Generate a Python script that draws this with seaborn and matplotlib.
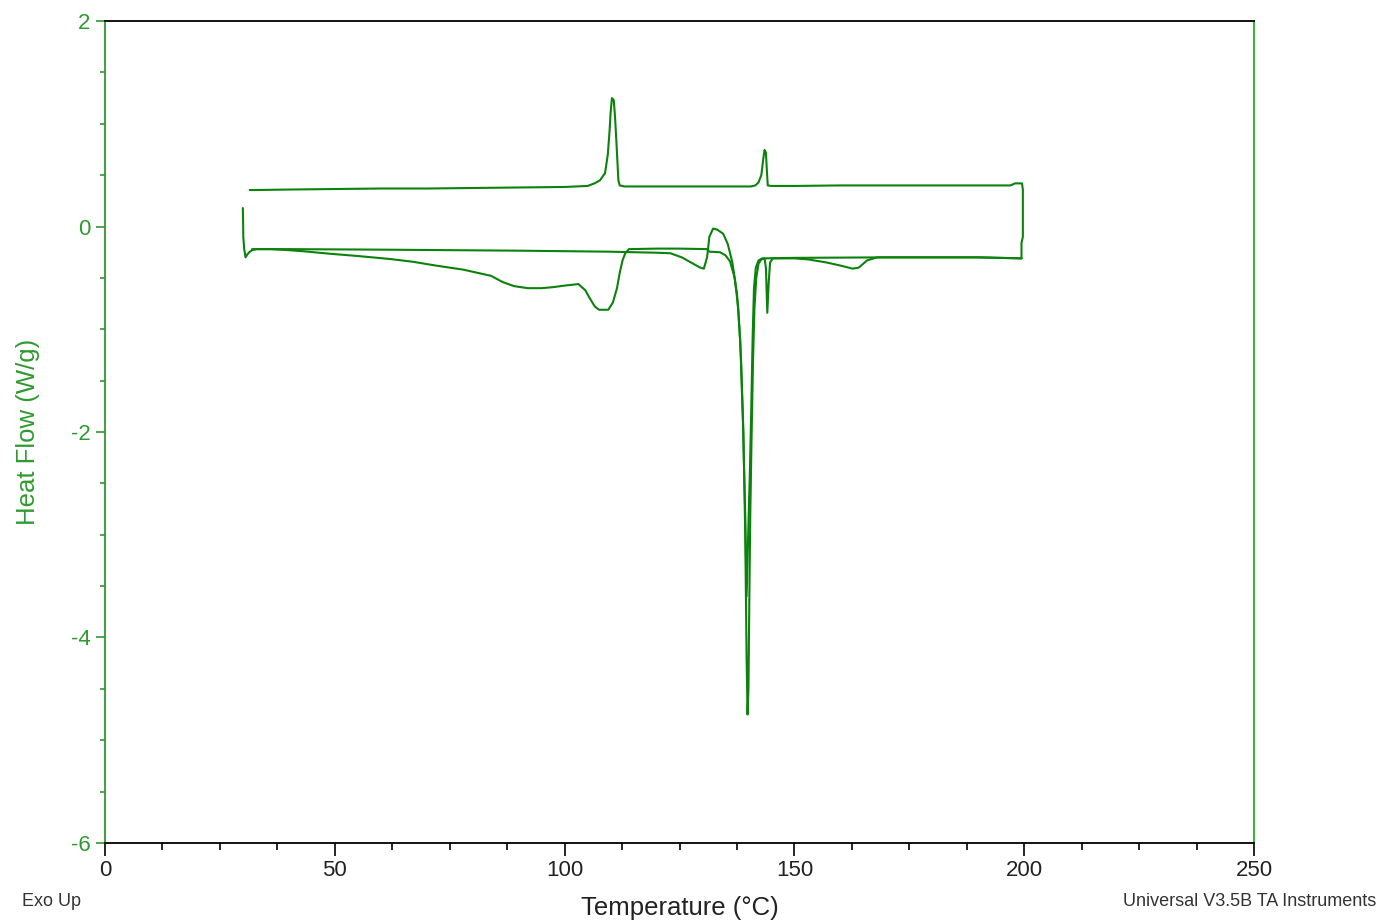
import numpy as np
import pandas as pd
import matplotlib
matplotlib.use("Agg")
import matplotlib.pyplot as plt
from matplotlib.ticker import MultipleLocator
import seaborn as sns

# First heating run (°C, W/g)
heat1_temp = [30.0, 30.05, 30.1, 30.3, 30.6, 31.0, 31.4, 32.0, 33.0, 36.0, 40.0, 43.0,
              49.0, 55.0, 62.0, 67.0, 72.0, 78.0, 84.0, 86.5, 89.0, 92.0, 95.0, 97.5,
              100.0, 103.0, 104.5, 105.5, 106.6, 107.5, 109.5, 110.5, 111.4, 112.0,
              112.6, 113.2, 114.0, 120.0, 125.0, 131.0, 131.5, 133.8, 135.0, 136.0,
              137.0, 137.8, 138.4, 138.9, 139.3, 139.6, 139.8, 140.0, 140.2, 140.4,
              140.7, 141.0, 141.3, 141.7, 142.2, 142.8, 143.5, 143.8, 144.1, 144.4,
              144.7, 145.3, 150.0, 153.0, 157.0, 160.0, 162.7, 164.0, 165.8, 168.0,
              180.0, 190.0, 199.4]
heat1_flow = [0.18, 0.08, -0.10, -0.22, -0.30, -0.27, -0.25, -0.23, -0.22, -0.22, -0.23, -0.24,
              -0.265, -0.287, -0.316, -0.343, -0.38, -0.42, -0.48, -0.54, -0.58, -0.60, -0.60, -0.59,
              -0.575, -0.56, -0.62, -0.70, -0.78, -0.81, -0.81, -0.74, -0.60, -0.45,
              -0.33, -0.26, -0.22, -0.215, -0.215, -0.22, -0.245, -0.25, -0.28, -0.34,
              -0.50, -0.80, -1.30, -2.00, -3.00, -4.20, -4.75, -4.50, -3.60, -2.80,
              -2.00, -1.30, -0.80, -0.50, -0.36, -0.32, -0.31, -0.40, -0.84, -0.55,
              -0.35, -0.31, -0.31, -0.32, -0.35, -0.38, -0.41, -0.40, -0.33, -0.30,
              -0.30, -0.30, -0.31]

# Cooling run from 200 °C back down
cool_temp = [199.4, 199.4, 199.7, 199.7, 199.5, 198.0, 197.0, 190.0, 180.0, 170.0, 160.0,
             150.0, 145.0, 144.2, 144.0, 143.8, 143.5, 143.2, 142.8, 142.2, 141.5, 140.5,
             130.0, 120.0, 113.0, 112.0, 111.7, 111.3, 111.0, 110.7, 110.3, 110.0, 109.8,
             109.4, 108.8, 107.7, 106.5, 105.0, 100.0, 90.0, 80.0, 70.0, 60.0, 50.0, 40.0,
             32.5, 31.5]
cool_flow = [-0.31, -0.16, -0.10, 0.36, 0.42, 0.42, 0.40, 0.40, 0.40, 0.40, 0.40,
             0.395, 0.395, 0.40, 0.55, 0.72, 0.745, 0.65, 0.50, 0.43, 0.40, 0.39,
             0.39, 0.39, 0.39, 0.40, 0.45, 0.80, 1.05, 1.23, 1.25, 1.10, 0.94,
             0.70, 0.52, 0.45, 0.42, 0.395, 0.385, 0.38, 0.375, 0.37, 0.37, 0.365, 0.36,
             0.355, 0.355]

# Second heating run
heat2_temp = [32.0, 40.0, 60.0, 75.0, 90.0, 100.0, 110.0, 115.0, 120.0, 123.0, 125.5,
              127.5, 129.5, 130.3, 131.0, 131.5, 132.3, 133.2, 134.5, 135.5, 136.5,
              137.5, 138.2, 138.8, 139.3, 139.6, 140.0, 140.3, 140.6, 140.9, 141.2,
              141.6, 142.2, 143.0, 150.0, 170.0, 190.0, 199.4]
heat2_flow = [-0.22, -0.22, -0.225, -0.23, -0.235, -0.24, -0.245, -0.25, -0.255, -0.26, -0.30,
              -0.35, -0.40, -0.41, -0.30, -0.10, -0.02, -0.03, -0.07, -0.17, -0.35,
              -0.65, -1.10, -1.90, -2.80, -3.60, -2.90, -2.40, -1.80, -1.10, -0.60,
              -0.40, -0.33, -0.31, -0.305, -0.30, -0.30, -0.31]

x_ticks = [0, 50, 100, 150, 200, 250]
y_ticks = [-6, -4, -2, 0, 2]

runs = pd.concat([
    pd.DataFrame({"Temperature": heat1_temp, "HeatFlow": heat1_flow, "run": "heat1"}),
    pd.DataFrame({"Temperature": cool_temp, "HeatFlow": cool_flow, "run": "cool"}),
    pd.DataFrame({"Temperature": heat2_temp, "HeatFlow": heat2_flow, "run": "heat2"}),
], ignore_index=True)

sns.set_theme(style="white")
plt.rcParams["font.family"] = ["Liberation Sans", "DejaVu Sans"]
plt.rcParams["axes.unicode_minus"] = False

line_green = "#0b820b"
axis_green = "#2f9a2f"
right_green = "#3db53d"

fig = plt.figure(figsize=(13.79, 9.23), dpi=100)
ax = fig.add_axes([0.0761, 0.0867, 0.9094 - 0.0761, 0.9772 - 0.0867])

for name, grp in runs.groupby("run", sort=False):
    sns.lineplot(data=grp, x="Temperature", y="HeatFlow", sort=False, estimator=None,
                 color=line_green, linewidth=1.5, ax=ax, legend=False)

ax.set_xlim(0, 250)
ax.set_ylim(-6, 2)
ax.set_xticks(x_ticks)
ax.set_yticks(y_ticks)
ax.xaxis.set_minor_locator(MultipleLocator(12.5))
ax.yaxis.set_minor_locator(MultipleLocator(0.5))

ax.tick_params(axis="x", which="major", direction="out", length=9, width=1.2,
               color="black", labelcolor="#222222", labelsize=16, pad=3, bottom=True)
ax.tick_params(axis="x", which="minor", direction="out", length=5, width=1.2,
               color="black", bottom=True)
ax.tick_params(axis="y", which="major", direction="out", length=6.5, width=1.2,
               color=axis_green, labelcolor=axis_green, labelsize=16, pad=4, left=True)
ax.tick_params(axis="y", which="minor", direction="out", length=3.5, width=1.2,
               color=axis_green, left=True)

for side in ("top", "bottom"):
    ax.spines[side].set_color("black")
    ax.spines[side].set_linewidth(1.3)
ax.spines["left"].set_color(axis_green)
ax.spines["left"].set_linewidth(1.3)
ax.spines["right"].set_color(right_green)
ax.spines["right"].set_linewidth(1.5)

ax.set_xlabel("Temperature (°C)", fontsize=18.5, color="#222222", labelpad=11)
ax.set_ylabel("Heat Flow (W/g)", fontsize=18.5, color=axis_green, labelpad=22)

fig.text(0.016, 0.0228, "Exo Up", fontsize=13, color="#333333", ha="left", va="center")
fig.text(0.998, 0.0228, "Universal V3.5B TA Instruments", fontsize=13, color="#333333",
         ha="right", va="center")

fig.savefig("out.png", dpi=100, facecolor="white")
